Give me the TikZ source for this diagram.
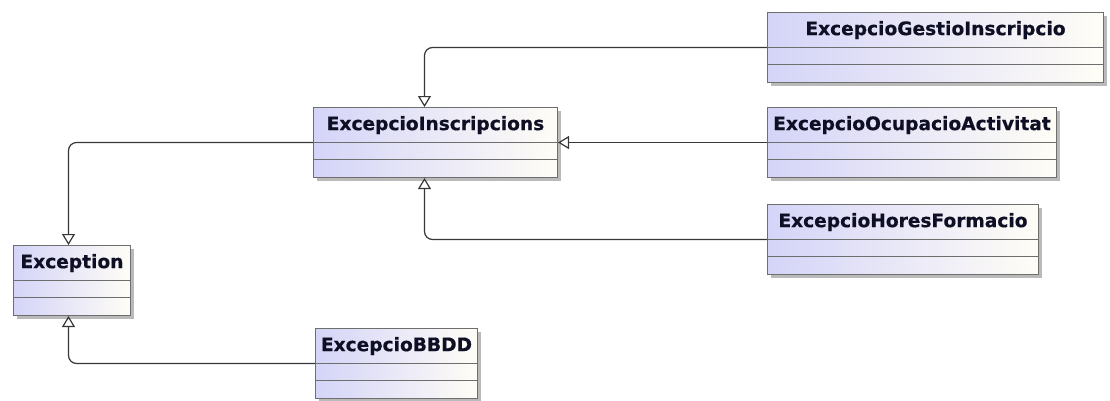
\documentclass[tikz,border=0pt]{standalone}
\usepackage{fontspec}
\setmainfont{DejaVu Sans}
\newfontfamily\clsfont{DejaVu Sans}[FakeBold=0.5]
\usetikzlibrary{arrows.meta,calc,shadows}
\definecolor{boxleft}{RGB}{212,212,248}
\definecolor{boxright}{RGB}{255,253,246}
\definecolor{boxline}{RGB}{110,110,110}
\definecolor{conn}{RGB}{55,55,55}
\definecolor{txt}{RGB}{14,14,36}
\tikzset{
  classbox/.style={draw=boxline, line width=1pt, rectangle, inner sep=0pt,
    minimum height=70pt, left color=boxleft, right color=boxright,
    drop shadow={fill=black!45, opacity=0.6, shadow xshift=3pt, shadow yshift=-3pt}},
  classname/.style={font=\clsfont\fontsize{18.6}{20}\selectfont\bfseries, text=txt, inner sep=0pt},
  sepline/.style={draw=boxline, line width=1pt},
  gen/.style={draw=conn, line width=1.2pt, rounded corners=8pt,
    -{Triangle[open, fill=white, width=13pt, length=11pt]}},
}
\newcommand\umlbox[5]{%
  \node[classbox, minimum width=#4pt, anchor=north west] (#1) at (#2pt,-#3pt) {};
  \node[classname] (#1-t) at ($(#1.north)+(0pt,-18pt)$) {#5};
  \draw[sepline] ($(#1.north west)+(0pt,-35pt)$) -- ($(#1.north east)+(0pt,-35pt)$);
  \draw[sepline] ($(#1.north west)+(0pt,-52.5pt)$) -- ($(#1.north east)+(0pt,-52.5pt)$);
}
\begin{document}
\begin{tikzpicture}
\useasboundingbox (0pt,0pt) rectangle (1110pt,-400pt);
\umlbox{G}{767}{12}{336}{ExcepcioGestioInscripcio}
\umlbox{I}{313}{107}{244}{ExcepcioInscripcions}
\umlbox{O}{767}{107}{289}{ExcepcioOcupacioActivitat}
\umlbox{H}{767}{204}{271}{ExcepcioHoresFormacio}
\umlbox{E}{13}{245}{117}{Exception}
\umlbox{B}{315}{328}{162}{ExcepcioBBDD}
\draw[gen] (G.west) -| ([xshift=-11pt]I.north);
\draw[gen] (O.west) -- (I.east);
\draw[gen] (H.west) -| ([xshift=-11pt]I.south);
\draw[gen] (I.west) -| ([xshift=-3.5pt]E.north);
\draw[gen] (B.west) -| ([xshift=-3.5pt]E.south);
\end{tikzpicture}
\end{document}
